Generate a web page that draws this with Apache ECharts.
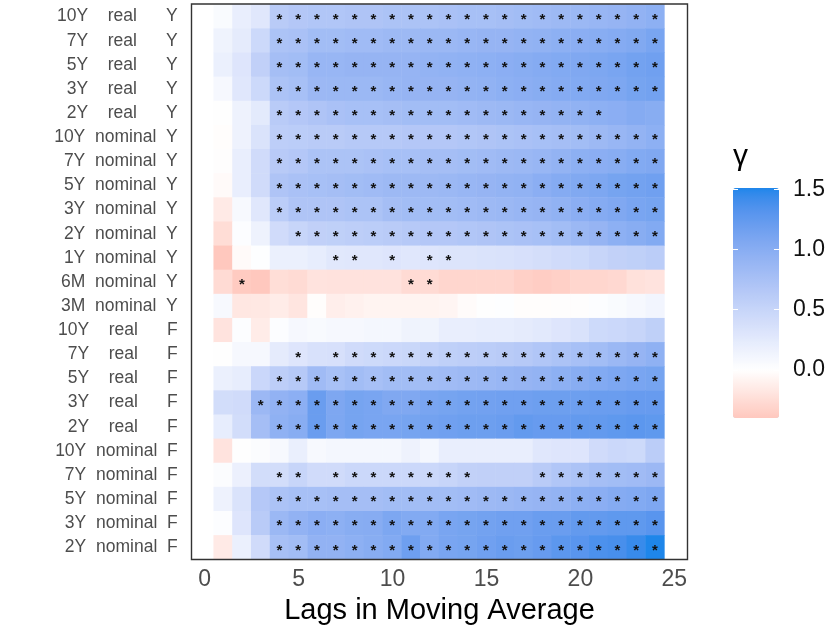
<!DOCTYPE html>
<html>
<head>
<meta charset="UTF-8">
<title>gamma by lags</title>
<script src="https://cdn.jsdelivr.net/npm/echarts@6/dist/echarts.min.js"></script>
<style>
  body { margin: 0; background: #fff; }
  #chart { width: 831px; height: 635px; }
</style>
</head>
<body>
<div id="chart"></div>
<script>
// rows listed top to bottom
var rowLabels = [
  '10Y    real      Y', '7Y    real      Y', '5Y    real      Y', '3Y    real      Y', '2Y    real      Y',
  '10Y  nominal  Y', '7Y  nominal  Y', '5Y  nominal  Y', '3Y  nominal  Y', '2Y  nominal  Y',
  '1Y  nominal  Y', '6M  nominal  Y', '3M  nominal  Y',
  '10Y    real      F', '7Y    real      F', '5Y    real      F', '3Y    real      F', '2Y    real      F',
  '10Y  nominal  F', '7Y  nominal  F', '5Y  nominal  F', '3Y  nominal  F', '2Y  nominal  F'
];
var lags = [1, 2, 3, 4, 5, 6, 7, 8, 9, 10, 11, 12, 13, 14, 15, 16, 17, 18, 19, 20, 21, 22, 23, 24];

// gamma estimate, one array per row, lags 1..24
var gammaValues = [
  [0.05, 0.20, 0.28, 0.62, 0.66, 0.68, 0.68, 0.70, 0.70, 0.72, 0.72, 0.72, 0.74, 0.76, 0.76, 0.78, 0.80, 0.82, 0.84, 0.86, 0.88, 0.90, 0.93, 0.96],
  [0.14, 0.24, 0.45, 0.72, 0.74, 0.80, 0.80, 0.82, 0.82, 0.84, 0.84, 0.86, 0.86, 0.88, 0.90, 0.90, 0.92, 0.94, 0.96, 0.98, 1.00, 1.02, 1.05, 1.10],
  [0.18, 0.30, 0.55, 0.78, 0.80, 0.88, 0.88, 0.90, 0.90, 0.90, 0.90, 0.92, 0.94, 0.95, 0.96, 0.98, 1.00, 1.02, 1.04, 1.06, 1.08, 1.10, 1.14, 1.16],
  [0.08, 0.28, 0.45, 0.72, 0.76, 0.85, 0.86, 0.86, 0.86, 0.88, 0.90, 0.90, 0.90, 0.92, 0.94, 0.96, 0.98, 1.00, 1.02, 1.04, 1.06, 1.08, 1.12, 1.14],
  [0.00, 0.15, 0.25, 0.62, 0.66, 0.70, 0.74, 0.76, 0.76, 0.78, 0.80, 0.80, 0.80, 0.82, 0.84, 0.86, 0.88, 0.90, 0.92, 0.94, 0.96, 0.98, 1.02, 1.00],
  [-0.02, 0.15, 0.33, 0.58, 0.60, 0.62, 0.62, 0.64, 0.64, 0.64, 0.66, 0.66, 0.66, 0.68, 0.70, 0.72, 0.74, 0.76, 0.78, 0.80, 0.84, 0.88, 0.92, 0.96],
  [-0.01, 0.20, 0.42, 0.63, 0.66, 0.72, 0.72, 0.72, 0.74, 0.76, 0.76, 0.78, 0.78, 0.80, 0.82, 0.84, 0.86, 0.88, 0.92, 0.96, 0.98, 1.00, 1.04, 1.06],
  [-0.04, 0.20, 0.42, 0.70, 0.74, 0.76, 0.78, 0.80, 0.82, 0.84, 0.84, 0.84, 0.86, 0.88, 0.90, 0.92, 0.94, 0.98, 1.02, 1.05, 1.08, 1.12, 1.14, 1.16],
  [-0.15, 0.07, 0.28, 0.60, 0.70, 0.70, 0.70, 0.72, 0.72, 0.78, 0.80, 0.80, 0.80, 0.82, 0.84, 0.86, 0.88, 0.90, 0.94, 0.98, 1.02, 1.06, 1.10, 1.12],
  [-0.25, 0.02, 0.15, 0.42, 0.50, 0.55, 0.56, 0.58, 0.60, 0.62, 0.64, 0.66, 0.66, 0.68, 0.70, 0.72, 0.74, 0.76, 0.80, 0.86, 0.90, 0.96, 1.00, 1.04],
  [-0.40, -0.04, 0.01, 0.18, 0.18, 0.22, 0.27, 0.28, 0.28, 0.30, 0.28, 0.30, 0.32, 0.32, 0.33, 0.34, 0.36, 0.38, 0.42, 0.44, 0.50, 0.54, 0.56, 0.60],
  [-0.26, -0.38, -0.40, -0.24, -0.26, -0.20, -0.21, -0.21, -0.21, -0.21, -0.26, -0.26, -0.30, -0.30, -0.30, -0.30, -0.34, -0.36, -0.34, -0.30, -0.30, -0.28, -0.22, -0.20],
  [0.07, -0.18, -0.17, -0.14, -0.19, -0.02, -0.12, -0.10, -0.08, -0.08, -0.08, -0.08, -0.07, -0.03, 0.00, 0.01, -0.02, -0.02, -0.01, -0.01, 0.02, 0.05, 0.08, 0.12],
  [-0.20, 0.02, -0.14, 0.02, 0.08, 0.06, 0.08, 0.08, 0.10, 0.10, 0.14, 0.13, 0.20, 0.20, 0.22, 0.22, 0.24, 0.26, 0.30, 0.34, 0.44, 0.46, 0.50, 0.56],
  [0.00, 0.08, 0.08, 0.24, 0.30, 0.35, 0.36, 0.42, 0.44, 0.46, 0.48, 0.52, 0.56, 0.58, 0.60, 0.62, 0.64, 0.68, 0.72, 0.76, 0.80, 0.86, 0.90, 0.95],
  [0.18, 0.22, 0.47, 0.58, 0.64, 0.82, 0.75, 0.80, 0.76, 0.80, 0.80, 0.80, 0.82, 0.84, 0.86, 0.88, 0.90, 0.92, 0.96, 1.00, 1.04, 1.08, 1.10, 1.12],
  [0.40, 0.42, 0.85, 0.93, 0.97, 1.20, 1.07, 1.12, 1.10, 1.06, 1.06, 1.10, 1.12, 1.14, 1.15, 1.16, 1.16, 1.18, 1.18, 1.18, 1.20, 1.20, 1.22, 1.22],
  [0.22, 0.40, 0.78, 0.95, 1.00, 1.20, 1.08, 1.12, 1.10, 1.10, 1.12, 1.14, 1.16, 1.18, 1.18, 1.20, 1.24, 1.22, 1.22, 1.24, 1.24, 1.26, 1.28, 1.26],
  [-0.20, 0.00, 0.03, 0.07, 0.19, 0.07, 0.10, 0.10, 0.10, 0.10, 0.15, 0.10, 0.20, 0.20, 0.20, 0.20, 0.20, 0.28, 0.30, 0.30, 0.42, 0.46, 0.44, 0.60],
  [0.03, 0.17, 0.40, 0.40, 0.50, 0.42, 0.42, 0.46, 0.46, 0.46, 0.46, 0.46, 0.50, 0.54, 0.55, 0.55, 0.55, 0.62, 0.68, 0.72, 0.78, 0.80, 0.82, 0.85],
  [0.15, 0.33, 0.65, 0.72, 0.76, 0.76, 0.78, 0.78, 0.78, 0.80, 0.80, 0.80, 0.80, 0.82, 0.84, 0.86, 0.88, 0.90, 0.92, 0.96, 0.98, 1.02, 1.04, 1.07],
  [0.02, 0.30, 0.62, 0.86, 0.93, 0.98, 0.96, 1.00, 1.01, 1.08, 1.04, 1.04, 1.10, 1.12, 1.14, 1.16, 1.16, 1.20, 1.20, 1.24, 1.24, 1.26, 1.26, 1.30],
  [-0.15, 0.18, 0.42, 0.76, 0.80, 0.93, 0.93, 0.96, 1.00, 1.04, 1.17, 1.04, 1.10, 1.12, 1.16, 1.20, 1.18, 1.22, 1.28, 1.30, 1.36, 1.38, 1.44, 1.51]
];

// significant lags per row, as [from, to] ranges
var starRanges = [
  [[4, 24]], [[4, 24]], [[4, 24]], [[4, 24]], [[4, 21]],
  [[4, 24]], [[4, 24]], [[4, 24]], [[4, 24]], [[5, 24]],
  [[7, 8], [10, 10], [12, 13]], [[2, 2], [11, 12]], [],
  [], [[5, 5], [7, 24]], [[4, 24]], [[3, 24]], [[4, 24]],
  [], [[4, 5], [7, 14], [18, 24]], [[4, 24]], [[4, 24]], [[4, 24]]
];

var xTicks = [0, 5, 10, 15, 20, 25];
var legendTicks = [0, 0.5, 1, 1.5];

var HIGH = '#1E86EA', LOW_END = '#FFC8BE';

function lin(c) { c /= 255; return c <= 0.04045 ? c / 12.92 : Math.pow((c + 0.055) / 1.055, 2.4); }
function gam(c) { c = Math.max(0, Math.min(1, c)); return Math.round(255 * (c <= 0.0031308 ? 12.92 * c : 1.055 * Math.pow(c, 1 / 2.4) - 0.055)); }
function toLab(hex) {
  var r = lin(parseInt(hex.substr(1, 2), 16)), g = lin(parseInt(hex.substr(3, 2), 16)), b = lin(parseInt(hex.substr(5, 2), 16));
  var x = (0.4124 * r + 0.3576 * g + 0.1805 * b) / 0.95047;
  var y = 0.2126 * r + 0.7152 * g + 0.0722 * b;
  var z = (0.0193 * r + 0.1192 * g + 0.9505 * b) / 1.08883;
  var f = function (t) { return t > 0.008856 ? Math.cbrt(t) : 7.787 * t + 16 / 116; };
  return [116 * f(y) - 16, 500 * (f(x) - f(y)), 200 * (f(y) - f(z))];
}
function fromLab(L, a, b) {
  var fy = (L + 16) / 116, fx = fy + a / 500, fz = fy - b / 200;
  var inv = function (t) { return t * t * t > 0.008856 ? t * t * t : (t - 16 / 116) / 7.787; };
  var x = inv(fx) * 0.95047, y = inv(fy), z = inv(fz) * 1.08883;
  var r = 3.2406 * x - 1.5372 * y - 0.4986 * z;
  var g = -0.9689 * x + 1.8758 * y + 0.0415 * z;
  var bb = 0.0557 * x - 0.2040 * y + 1.0570 * z;
  return 'rgb(' + gam(r) + ',' + gam(g) + ',' + gam(bb) + ')';
}
var labHigh = toLab(HIGH), labLow = toLab(LOW_END);

var minV = Infinity, maxV = -Infinity;
gammaValues.forEach(function (row) {
  row.forEach(function (v) { minV = Math.min(minV, v); maxV = Math.max(maxV, v); });
});

function colourOf(v) {
  var end = v >= 0 ? labHigh : labLow;
  var t = v >= 0 ? v / maxV : v / minV;
  return fromLab(100 + (end[0] - 100) * t, end[1] * t, end[2] * t);
}
var stops = [];
for (var i = 0; i <= 60; i++) stops.push(colourOf(minV + (maxV - minV) * i / 60));

function isStar(r, lag) {
  return starRanges[r].some(function (p) { return lag >= p[0] && lag <= p[1]; });
}

var cells = [];
gammaValues.forEach(function (row, r) {
  row.forEach(function (v, c) {
    cells.push([c, r, v, isStar(r, lags[c]) ? 1 : 0]);
  });
});

var FONT = '"Liberation Sans", Arial, sans-serif';
var chart = echarts.init(document.getElementById('chart'));

chart.setOption({
  animation: false,
  title: {
    text: 'γ', left: 733, top: 142, padding: 0,
    textStyle: { fontSize: 30, fontWeight: 'normal', color: '#000', fontFamily: FONT }
  },
  grid: [
    { left: 213.7, right: 166.6, top: 4.5, bottom: 75.5 },
    { left: 191.5, right: 143.5, top: 4, bottom: 75.5, show: true, borderColor: '#333', borderWidth: 1.4, backgroundColor: 'transparent', z: 5 },
    { left: 733, width: 46, top: 188, height: 230 }
  ],
  xAxis: [
    { gridIndex: 0, type: 'category', data: lags, show: false },
    {
      gridIndex: 1, type: 'value', min: -0.7, max: 25.7,
      axisLine: { show: false }, axisTick: { show: false }, splitLine: { show: false },
      axisLabel: { customValues: xTicks, color: '#4d4d4d', fontSize: 23, margin: 9, fontFamily: FONT },
      name: 'Lags in Moving Average', nameLocation: 'middle', nameGap: 35,
      nameTextStyle: { fontSize: 29, color: '#000', fontFamily: FONT }
    },
    { gridIndex: 2, type: 'value', show: false }
  ],
  yAxis: [
    {
      gridIndex: 0, type: 'category', data: rowLabels, inverse: true,
      axisLine: { show: false }, axisTick: { show: false }, splitLine: { show: false },
      axisLabel: { color: '#4d4d4d', fontSize: 17.5, margin: 36, fontFamily: FONT }
    },
    { gridIndex: 1, type: 'value', show: false },
    {
      gridIndex: 2, type: 'value', min: minV, max: maxV, position: 'left', z: 10,
      axisLine: { show: false }, splitLine: { show: false }, axisLabel: { show: false },
      axisTick: { inside: true, length: 5, customValues: legendTicks, lineStyle: { color: '#fff', width: 1 } }
    },
    {
      gridIndex: 2, type: 'value', min: minV, max: maxV, position: 'right', z: 10,
      axisLine: { show: false }, splitLine: { show: false },
      axisTick: { inside: true, length: 5, customValues: legendTicks, lineStyle: { color: '#fff', width: 1 } },
      axisLabel: {
        customValues: legendTicks, margin: 14, color: '#111', fontSize: 23, fontFamily: FONT,
        formatter: function (v) { return v.toFixed(1); }
      }
    }
  ],
  visualMap: {
    type: 'continuous', seriesIndex: 0, dimension: 2,
    min: minV, max: maxV, calculable: false,
    left: 733, top: 188, itemWidth: 46, itemHeight: 230, padding: 0,
    inRange: { color: stops }
  },
  series: [{
    type: 'heatmap', xAxisIndex: 0, yAxisIndex: 0, data: cells,
    label: {
      show: true, color: '#111', fontSize: 15, fontWeight: 'bold', fontFamily: FONT, offset: [0, 3],
      formatter: function (p) { return p.data[3] ? '*' : ''; }
    },
    emphasis: { disabled: true }
  }]
});
</script>
</body>
</html>
